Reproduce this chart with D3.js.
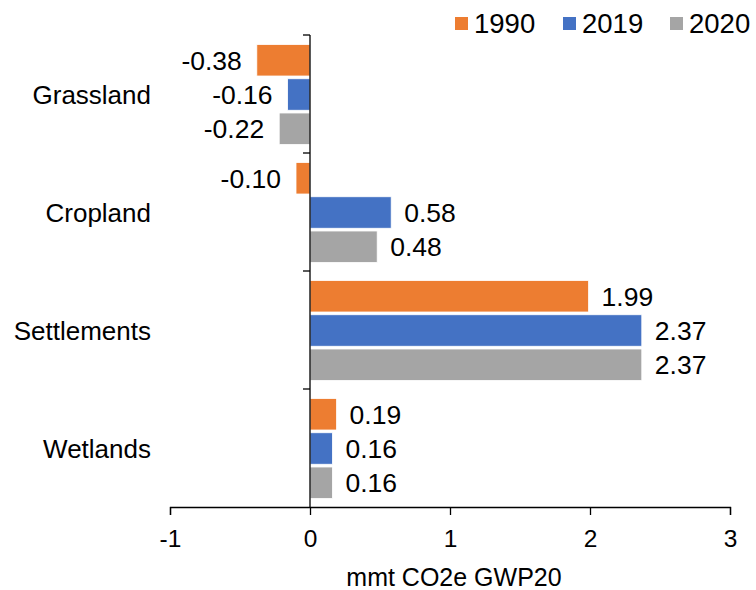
<!DOCTYPE html>
<html>
<head>
<meta charset="utf-8"/>
<title>Land use emissions</title>
<style>
body { margin: 0; background: #fff; }
svg text { font-family: "Liberation Sans", Arial, sans-serif; fill: #000; }
</style>
</head>
<body>
<div id="chart"></div>
<script src="https://d3js.org/d3.v7.min.js"></script>
<script>
// data
var categories = ["Grassland", "Cropland", "Settlements", "Wetlands"];
var seriesNames = ["1990", "2019", "2020"];
var values1990 = [-0.38, -0.10, 1.99, 0.19];
var values2019 = [-0.16, 0.58, 2.37, 0.16];
var values2020 = [-0.22, 0.48, 2.37, 0.16];
var xTicks = [-1, 0, 1, 2, 3];

var colors = {"1990": "#ED7D31", "2019": "#4472C4", "2020": "#A5A5A5"};
var seriesValues = {"1990": values1990, "2019": values2019, "2020": values2020};

var width = 756, height = 590;
var plotLeft = 170, plotRight = 730, plotTop = 35, plotBottom = 507;

var svg = d3.select("#chart").append("svg")
  .attr("width", width)
  .attr("height", height);

// scales
var x = d3.scaleLinear().domain([-1, 3]).range([plotLeft, plotRight]);
var y = d3.scaleBand().domain(categories).range([plotTop, plotBottom]).padding(0);
var ySub = d3.scaleBand().domain(seriesNames)
  .range([9.5, y.bandwidth() - 8.5]).paddingInner(0.08);

// bars
var groups = svg.selectAll("g.cat")
  .data(categories)
  .enter().append("g")
    .attr("class", "cat")
    .attr("transform", function(d) { return "translate(0," + y(d) + ")"; });

groups.each(function(cat, i) {
  var g = d3.select(this);
  seriesNames.forEach(function(s) {
    var v = seriesValues[s][i];
    g.append("rect")
      .attr("x", Math.min(x(0), x(v)))
      .attr("y", ySub(s))
      .attr("width", Math.abs(x(v) - x(0)))
      .attr("height", ySub.bandwidth())
      .attr("fill", colors[s])
      .attr("stroke", "#fff")
      .attr("stroke-width", 0.8);
    // value label
    g.append("text")
      .attr("x", v >= 0 ? x(v) + 13 : x(v) - 15)
      .attr("y", ySub(s) + ySub.bandwidth() / 2)
      .attr("dy", "0.36em")
      .attr("text-anchor", v >= 0 ? "start" : "end")
      .style("font-size", "26.5px")
      .text(v.toFixed(2));
  });
});

// x axis
var xAxis = d3.axisBottom(x)
  .tickValues(xTicks)
  .tickFormat(d3.format("d"))
  .tickSize(8)
  .tickSizeOuter(8)
  .tickPadding(15);

var gx = svg.append("g")
  .attr("transform", "translate(0," + plotBottom + ")")
  .call(xAxis);
gx.select(".domain").attr("stroke", "#000").attr("stroke-width", 1.3);
gx.selectAll(".tick line").attr("stroke", "#000").attr("stroke-width", 1.3);
gx.selectAll(".tick text")
  .attr("font-family", null)
  .style("font-size", "24.5px")
  .text(function(d) { return d; });

// category axis at zero
svg.append("line")
  .attr("x1", x(0)).attr("x2", x(0))
  .attr("y1", plotTop).attr("y2", plotBottom)
  .attr("stroke", "#000").attr("stroke-width", 1.3);

svg.selectAll("line.ytick")
  .data(categories)
  .enter().append("line")
    .attr("class", "ytick")
    .attr("x1", x(0) - 7).attr("x2", x(0))
    .attr("y1", function(d) { return y(d); })
    .attr("y2", function(d) { return y(d); })
    .attr("stroke", "#000").attr("stroke-width", 1.3);

svg.selectAll("text.cat-label")
  .data(categories)
  .enter().append("text")
    .attr("class", "cat-label")
    .attr("x", 151)
    .attr("y", function(d) { return y(d) + y.bandwidth() / 2; })
    .attr("dy", "0.38em")
    .attr("text-anchor", "end")
    .style("font-size", "26px")
    .text(function(d) { return d; });

// axis title
svg.append("text")
  .attr("x", 454)
  .attr("y", 586)
  .attr("text-anchor", "middle")
  .style("font-size", "25px")
  .text("mmt CO2e GWP20");

// legend
var legendX = [455, 563, 670];
var legend = svg.selectAll("g.legend")
  .data(seriesNames)
  .enter().append("g")
    .attr("class", "legend")
    .attr("transform", function(d, i) { return "translate(" + legendX[i] + ",0)"; });

legend.append("rect")
  .attr("x", 0).attr("y", 17)
  .attr("width", 13).attr("height", 13)
  .attr("fill", function(d) { return colors[d]; });

legend.append("text")
  .attr("x", 19)
  .attr("y", 33)
  .style("font-size", "27.5px")
  .text(function(d) { return d; });
</script>
</body>
</html>
